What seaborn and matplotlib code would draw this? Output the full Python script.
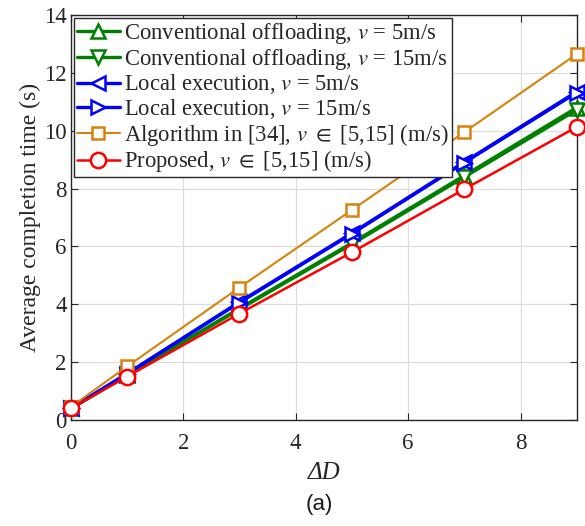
import numpy as np
import pandas as pd
import matplotlib
matplotlib.use("Agg")
import matplotlib.pyplot as plt
import seaborn as sns

sns.set_theme(style="whitegrid")
plt.rcParams["font.family"] = ["Liberation Serif", "DejaVu Serif"]
plt.rcParams["mathtext.fontset"] = "stix"

delta_d = [0, 1, 3, 5, 7, 9]
conv_5 = [0.40, 1.55, 3.86, 6.12, 8.45, 10.80]
conv_15 = [0.40, 1.54, 3.83, 6.08, 8.40, 10.72]
local_5 = [0.40, 1.60, 4.08, 6.46, 8.92, 11.35]
local_15 = [0.40, 1.60, 4.06, 6.44, 8.90, 11.32]
algo_34 = [0.45, 1.85, 4.58, 7.26, 9.95, 12.65]
proposed = [0.40, 1.50, 3.68, 5.80, 7.98, 10.13]

labels = [
    r"Conventional offloading, $v$ = 5m/s",
    r"Conventional offloading, $v$ = 15m/s",
    r"Local execution, $v$ = 5m/s",
    r"Local execution, $v$ = 15m/s",
    r"Algorithm in [34], $v$ $\in$ [5,15] (m/s)",
    r"Proposed, $v$ $\in$ [5,15] (m/s)",
]
series = [conv_5, conv_15, local_5, local_15, algo_34, proposed]
colors = ["#008000", "#008000", "#0000FF", "#0000FF", "#D9820B", "#FF0000"]
markers = ["^", "v", "<", ">", "s", "o"]
widths = [2.4, 2.4, 2.4, 2.4, 1.5, 1.8]
msizes = [10, 10, 10, 10, 9, 11]

fig = plt.figure(figsize=(5.85, 5.26), dpi=100)
ax = fig.add_axes([0.121, 0.2015, 0.865, 0.77])

for lab, ys, c, m, lw, ms in zip(labels, series, colors, markers, widths, msizes):
    df = pd.DataFrame({"x": delta_d, "y": ys})
    sns.lineplot(data=df, x="x", y="y", ax=ax, color=c, marker=m, linewidth=lw,
                 markersize=ms, markerfacecolor="white", markeredgecolor=c,
                 markeredgewidth=1.8, label=lab, clip_on=False, zorder=3)

ax.set_xlim(0, 9)
ax.set_ylim(0, 14)
ax.set_xticks([0, 2, 4, 6, 8])
ax.set_yticks(np.arange(0, 15, 2))
ax.grid(True, color="#DDDDDD", linewidth=0.9)
for s in ax.spines.values():
    s.set_color("#262626")
    s.set_linewidth(1.0)
ax.tick_params(direction="in", length=5, width=0.8, colors="#262626",
               labelsize=16.5, top=True, right=True, bottom=True, left=True)
ax.tick_params(axis="x", pad=9)
ax.tick_params(axis="y", pad=3)
ax.set_xlabel("\u0394D", fontsize=18, style="italic", color="#262626", labelpad=6)
ax.set_ylabel("Average completion time (s)", fontsize=17, color="#262626", labelpad=2)

leg = ax.legend(loc="upper left", fontsize=16.3, frameon=True, fancybox=False,
                edgecolor="#262626", framealpha=1, borderaxespad=0.15,
                handlelength=1.9, handletextpad=0.2, labelspacing=0.03,
                borderpad=0.12)
leg.get_frame().set_linewidth(1.0)
leg.set_zorder(5)

fig.text(0.545, 0.04, "(a)", fontsize=16, family="Liberation Sans",
         ha="center", va="center", color="#1a1a1a")

fig.savefig("out.png", dpi=100)
